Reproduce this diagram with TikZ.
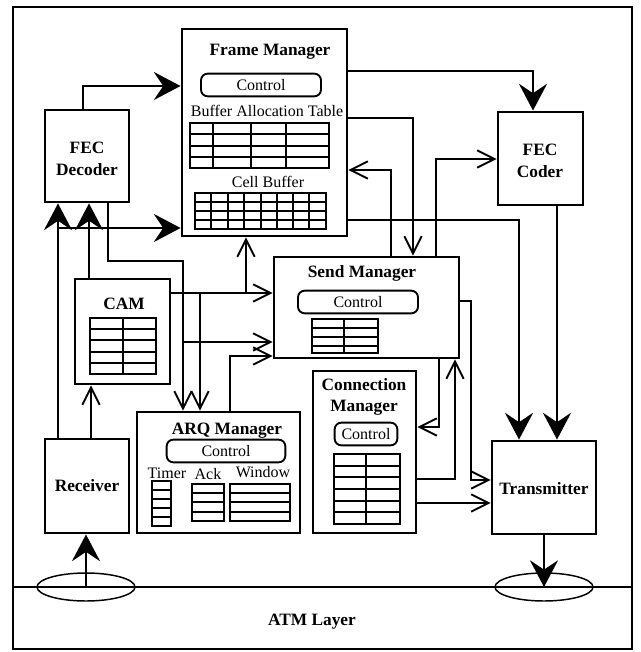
\documentclass[tikz,border=0pt]{standalone}
\usepackage{fontspec}
\setmainfont{Liberation Serif}
\usetikzlibrary{arrows.meta, fit, shapes.geometric}

\begin{document}
\begin{tikzpicture}[x=0.75pt, y=-0.75pt,
    blk/.style={draw, line width=2.2pt, inner sep=0pt},
    ctrlbox/.style={draw, line width=1.4pt, rounded corners=5pt, minimum height=17pt, inner sep=0pt, font=\fontsize{12}{14}\selectfont},
    ttl/.style={inner sep=0pt, align=center, font=\fontsize{13}{16}\selectfont\bfseries},
    lbl/.style={inner sep=0pt, font=\fontsize{12}{14}\selectfont},
    tbl/.style={line width=1.4pt},
    thk/.style={line width=2.2pt, -{Stealth[length=20pt, width=21pt, inset=7pt]}},
    thn/.style={line width=0.8pt, -{Straight Barb[length=13pt, width=13pt, line width=1.4pt]}},
    port/.style={draw, ellipse, line width=1.1pt, minimum width=73.5pt, minimum height=21pt, inner sep=0pt}]

    \useasboundingbox (0,0) rectangle (640,652);

    % Outer frame and the ATM layer
    \draw[line width=1.1pt] (13,7) rectangle (632,649);
    \draw[line width=1.1pt] (13,587) -- (632,587);
    \node[ttl] (atm) at (312,622) {ATM Layer};
    \node[port] (prx) at (86,587) {};
    \node[port] (ptx) at (544,587) {};

    % Frame Manager
    \node[blk, fit={(182,29) (347,236)}] (fm) {};
    \node[ttl] (fmt) at (270,52) {Frame Manager};
    \node[ctrlbox, minimum width=90pt] (fmc) at (261,85) {Control};
    \node[lbl] (bat) at (267,111) {Buffer Allocation Table};
    \draw[tbl] (190,123) rectangle (329,168);
    \foreach \x in {213,251,286} \draw[tbl] (\x,123) -- (\x,168);
    \foreach \y in {134,146,157} \draw[tbl] (190,\y) -- (329,\y);
    \node[lbl] (cbf) at (268,182) {Cell Buffer};
    \draw[tbl] (195,193) rectangle (326,229);
    \foreach \x in {211,228,244,261,277,293,309} \draw[tbl] (\x,193) -- (\x,229);
    \foreach \y in {202,211,220} \draw[tbl] (195,\y) -- (326,\y);

    % FEC blocks
    \node[blk, fit={(45,110) (129,202)}] (fdec) {};
    \node[ttl] (fdect) at (87,159) {FEC\\Decoder};
    \node[blk, fit={(498,112) (583,205)}] (fcod) {};
    \node[ttl] (fcodt) at (540,161) {FEC\\Coder};

    % Send Manager
    \node[blk, fit={(274,257) (459,358)}] (sm) {};
    \node[ttl] (smt) at (362,273) {Send Manager};
    \node[ctrlbox, minimum width=90pt] (smc) at (358,302) {Control};
    \draw[tbl] (312,319) rectangle (378,353);
    \draw[tbl] (344,319) -- (344,353);
    \foreach \y in {328,337,346} \draw[tbl] (312,\y) -- (378,\y);

    % CAM
    \node[blk, fit={(75,279) (170,384)}] (cam) {};
    \node[ttl] (camt) at (124,304) {CAM};
    \draw[tbl] (90,318) rectangle (156,374);
    \draw[tbl] (123,318) -- (123,374);
    \foreach \y in {329,340,352,363} \draw[tbl] (90,\y) -- (156,\y);

    % Connection Manager
    \node[blk, fit={(313,371) (416,533)}] (cm) {};
    \node[ttl] (cmt) at (364,397) {Connection\\Manager};
    \node[ctrlbox, minimum width=47pt] (cmc) at (366,434) {Control};
    \draw[tbl] (334,454) rectangle (400,524);
    \draw[tbl] (366,454) -- (366,524);
    \foreach \y in {466,477,489,501,512} \draw[tbl] (334,\y) -- (400,\y);

    % ARQ Manager
    \node[blk, fit={(137,412) (300,533)}] (arq) {};
    \node[ttl] (arqt) at (227,431) {ARQ Manager};
    \node[ctrlbox, minimum width=89pt] (arqc) at (226,451) {Control};
    \node[lbl] (tmr) at (167,473) {Timer};
    \node[lbl] (ack) at (208,474) {Ack};
    \node[lbl] (win) at (263,472) {Window};
    \draw[tbl] (152,481) rectangle (171,526);
    \foreach \y in {490,499,508,517} \draw[tbl] (152,\y) -- (171,\y);
    \draw[tbl] (192,484) rectangle (224,521);
    \foreach \y in {493,502,512} \draw[tbl] (192,\y) -- (224,\y);
    \draw[tbl] (230,484) rectangle (290,521);
    \foreach \y in {493,502,512} \draw[tbl] (230,\y) -- (290,\y);

    % Receiver and Transmitter
    \node[blk, fit={(45,439) (129,533)}] (rx) {};
    \node[ttl] (rxt) at (87,486) {Receiver};
    \node[blk, fit={(492,441) (596,534)}] (tx) {};
    \node[ttl] (txt) at (544,489) {Transmitter};

    % branch points
    \coordinate (jrx) at (58,228);
    \coordinate (jarq) at (183,342);
    \coordinate (jcam) at (200,293);
    \coordinate (jfm) at (246,293);

    % Thick data paths
    \draw[thk] (fdec.north -| 83,0) |- (fm.west |- 0,86);
    \draw[thk] (fm.east |- 0,71) -| (fcod.north -| 533,0);
    \draw[thk] (fm.east |- 0,220) -| (tx.north -| 519,0);
    \draw[thk] (fcod.south -| 557,0) -- (tx.north -| 557,0);
    \draw[thk] (tx.south -| ptx.center) -- (ptx.center);
    \draw[thk] (prx.center) -- (rx.south -| prx.center);
    \draw[thk] (rx.north -| 58,0) -- (fdec.south -| 58,0);
    \draw[thk] (jrx) -- (fm.west |- jrx);
    \draw[thk] (cam.north -| 89,0) -- (fdec.south -| 89,0);

    % Thin control paths
    \draw[thn] (fm.east |- 0,118) -| (sm.north -| 413,0);
    \draw[thn] (sm.north -| 391,0) |- (fm.east |- 0,170);
    \draw[thn] (sm.north -| 436,0) |- (fcod.west |- 0,159);
    \draw[thn] (fdec.south -| 108,0) |- (183,261) -- (arq.north -| 183,0);
    \draw[thn] (jarq) -- (sm.west |- jarq);
    \draw[thn] (cam.east |- jcam) -- (sm.west |- jcam);
    \draw[thn] (jcam) -- (arq.north -| jcam);
    \draw[thn] (jfm) -- (fm.south -| jfm);
    \draw[thn] (arq.north -| 230,0) |- (sm.west |- 0,356);
    \draw[thn] (rx.north -| 91,0) -- (cam.south -| 91,0);
    \draw[thn] (sm.east |- 0,301) -| (471,480) -- (tx.west |- 0,480);
    \draw[thn] (sm.south -| 439,0) |- (cm.east |- 0,427);
    \draw[thn] (cm.east |- 0,479) -| (sm.south -| 455,0);
    \draw[thn] (cm.east |- 0,503) -- (tx.west |- 0,503);

\end{tikzpicture}
\end{document}
